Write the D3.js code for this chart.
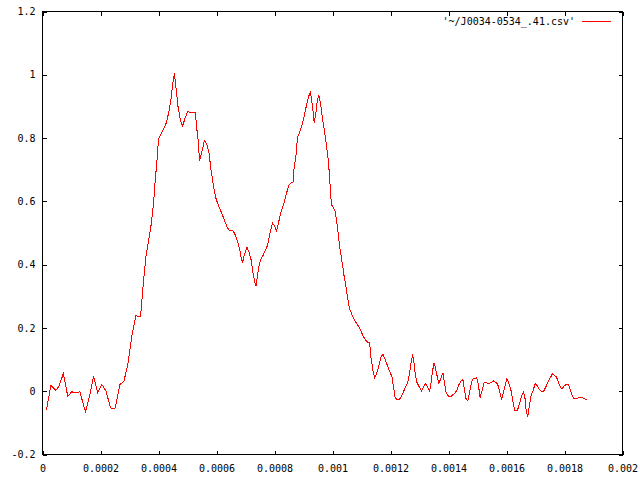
<!DOCTYPE html>
<html>
<head>
<meta charset="utf-8">
<script src="https://cdn.jsdelivr.net/npm/d3@7"></script>
<style>
  body { margin: 0; background: #fff; }
  svg { display: block; }
  text { font-family: "DejaVu Sans Mono", "Liberation Mono", monospace; font-size: 10px; fill: #000; }
</style>
</head>
<body>
<svg width="640" height="480"></svg>
<script>
// sample times in microseconds
var timeUs = [
  14, 29, 46, 57, 72, 87, 101, 115, 129, 148, 162, 176, 190, 205, 219, 235, 246, 251, 267, 281,
  295, 308, 322, 338, 343, 350, 357, 365, 374, 383, 389, 395, 400, 408, 417, 427, 435, 443, 448, 455,
  461, 467, 475, 483, 492, 501, 509, 527, 533, 538, 541, 546, 553, 558, 567, 574, 581, 588, 596, 604,
  613, 622, 631, 638, 647, 656, 664, 672, 679, 684, 690, 695, 705, 713, 719, 726, 730, 736, 740, 746,
  753, 762, 770, 777, 785, 793, 800, 807, 815, 823, 831, 840, 848, 854, 864, 868, 874, 879, 886, 894,
  900, 907, 914, 920, 924, 931, 937, 943, 948, 953, 960, 966, 973, 978, 984, 989, 992, 996, 1003, 1009,
  1015, 1021, 1024, 1030, 1036, 1040, 1046, 1052, 1058, 1067, 1075, 1082, 1090, 1098, 1107, 1114, 1121, 1128, 1132, 1139,
  1145, 1153, 1161, 1168, 1174, 1182, 1190, 1199, 1205, 1210, 1216, 1222, 1230, 1236, 1243, 1251, 1259, 1266, 1270, 1276,
  1281, 1285, 1291, 1299, 1307, 1314, 1321, 1328, 1335, 1340, 1345, 1350, 1355, 1361, 1367, 1372, 1381, 1386, 1392, 1398,
  1406, 1413, 1421, 1429, 1436, 1443, 1450, 1454, 1461, 1467, 1472, 1481, 1486, 1497, 1503, 1509, 1515, 1523, 1532, 1539,
  1547, 1555, 1561, 1569, 1576, 1583, 1590, 1597, 1601, 1608, 1615, 1621, 1628, 1638, 1644, 1652, 1659, 1665, 1668, 1673,
  1677, 1684, 1691, 1699, 1706, 1713, 1720, 1728, 1736, 1744, 1751, 1758, 1765, 1772, 1778, 1785, 1791, 1798, 1805, 1814,
  1819, 1825, 1832, 1839, 1848, 1856, 1863, 1870, 1877
];
var amplitude = [
  -0.058, 0.019, 0.003, 0.016, 0.056, -0.016, -0.002, -0.005, -0.002, -0.065, -0.016, 0.047, -0.005, 0.021, 0.000, -0.053, -0.056, -0.053, 0.021, 0.032,
  0.089, 0.174, 0.239, 0.235, 0.289, 0.365, 0.427, 0.470, 0.522, 0.595, 0.669, 0.732, 0.796, 0.811, 0.827, 0.848, 0.880, 0.922, 0.964, 1.004,
  0.954, 0.901, 0.859, 0.838, 0.864, 0.885, 0.880, 0.880, 0.822, 0.785, 0.727, 0.743, 0.769, 0.793, 0.780, 0.753, 0.701, 0.659, 0.616, 0.593,
  0.574, 0.553, 0.532, 0.516, 0.506, 0.509, 0.495, 0.474, 0.453, 0.427, 0.406, 0.427, 0.456, 0.437, 0.416, 0.374, 0.353, 0.332, 0.358, 0.395,
  0.416, 0.432, 0.448, 0.464, 0.501, 0.532, 0.522, 0.506, 0.537, 0.569, 0.590, 0.620, 0.648, 0.656, 0.661, 0.711, 0.743, 0.801, 0.817, 0.838,
  0.859, 0.890, 0.917, 0.938, 0.945, 0.901, 0.848, 0.880, 0.922, 0.935, 0.901, 0.859, 0.817, 0.785, 0.743, 0.690, 0.648, 0.590, 0.580, 0.569,
  0.532, 0.490, 0.458, 0.427, 0.390, 0.364, 0.332, 0.295, 0.263, 0.242, 0.227, 0.216, 0.205, 0.190, 0.172, 0.161, 0.155, 0.153, 0.111, 0.068,
  0.042, 0.058, 0.084, 0.111, 0.116, 0.100, 0.079, 0.058, 0.047, 0.016, -0.021, -0.026, -0.026, -0.020, -0.005, 0.011, 0.026, 0.058, 0.084, 0.116,
  0.090, 0.058, 0.028, 0.014, 0.002, 0.014, 0.024, 0.014, 0.000, 0.028, 0.063, 0.090, 0.074, 0.047, 0.024, 0.037, 0.058, 0.026, -0.005, -0.014,
  -0.018, -0.013, -0.007, 0.003, 0.021, 0.032, 0.037, 0.011, -0.026, -0.030, -0.005, 0.032, 0.040, 0.042, 0.021, -0.021, 0.000, 0.028, 0.026, 0.023,
  0.028, 0.032, 0.028, 0.024, 0.000, -0.026, 0.000, 0.024, 0.039, 0.026, 0.005, -0.026, -0.060, -0.060, -0.042, -0.016, -0.002, -0.028, -0.063, -0.081,
  -0.056, -0.016, 0.000, 0.024, 0.018, 0.005, 0.000, 0.000, 0.014, 0.032, 0.042, 0.055, 0.050, 0.045, 0.032, 0.014, 0.007, 0.016, 0.021, 0.021,
  0.007, -0.011, -0.024, -0.023, -0.021, -0.019, -0.021, -0.024, -0.027
];

var xTicks = [0, 0.0002, 0.0004, 0.0006, 0.0008, 0.001, 0.0012, 0.0014, 0.0016, 0.0018, 0.002];
var xTickLabels = ["0", "0.0002", "0.0004", "0.0006", "0.0008", "0.001", "0.0012", "0.0014", "0.0016", "0.0018", "0.002"];
var yTicks = [-0.2, 0, 0.2, 0.4, 0.6, 0.8, 1, 1.2];
var yTickLabels = ["-0.2", "0", "0.2", "0.4", "0.6", "0.8", "1", "1.2"];
var seriesName = "'~/J0034-0534_.41.csv'";

var data = timeUs.map(function(t, i) { return {x: t / 1e6, y: amplitude[i]}; });

// plot frame edges (half pixels keep the 1px lines crisp)
var plotLeft = 42.5, plotRight = 622.5, plotTop = 11.5, plotBottom = 454.5;

var svg = d3.select("svg");

var x = d3.scaleLinear().domain([0, 0.002]).range([plotLeft, plotRight]);
var y = d3.scaleLinear().domain([-0.2, 1.2]).range([plotBottom, plotTop]);

// bottom axis with labels, ticks pointing in
svg.append("g")
    .attr("transform", "translate(0," + plotBottom + ")")
    .call(d3.axisBottom(x).tickValues(xTicks)
        .tickFormat(function(d, i) { return xTickLabels[i]; })
        .tickSizeInner(-4).tickSizeOuter(0).tickPadding(10));

// mirrored top ticks
svg.append("g")
    .attr("transform", "translate(0," + plotTop + ")")
    .call(d3.axisTop(x).tickValues(xTicks).tickFormat("")
        .tickSizeInner(-4).tickSizeOuter(0));

// left axis
svg.append("g")
    .attr("transform", "translate(" + plotLeft + ",0)")
    .call(d3.axisLeft(y).tickValues(yTicks)
        .tickFormat(function(d, i) { return yTickLabels[i]; })
        .tickSizeInner(-4).tickSizeOuter(0).tickPadding(7));

// mirrored right ticks
svg.append("g")
    .attr("transform", "translate(" + plotRight + ",0)")
    .call(d3.axisRight(y).tickValues(yTicks).tickFormat("")
        .tickSizeInner(-4).tickSizeOuter(0));

svg.selectAll(".domain").remove();
svg.selectAll(".tick line").attr("stroke", "#000").attr("shape-rendering", "crispEdges");
svg.selectAll(".tick text").style("font-family", "DejaVu Sans Mono, Liberation Mono, monospace").style("font-size", "10px");

// frame
svg.append("rect")
    .attr("x", plotLeft).attr("y", plotTop)
    .attr("width", plotRight - plotLeft).attr("height", plotBottom - plotTop)
    .attr("fill", "none").attr("stroke", "#000")
    .attr("shape-rendering", "crispEdges");

// the trace (no antialiasing, like the gnuplot png)
var line = d3.line()
    .x(function(d) { return x(d.x); })
    .y(function(d) { return y(d.y); });

svg.append("path")
    .datum(data)
    .attr("fill", "none")
    .attr("stroke", "#ff0000")
    .attr("stroke-width", 1)
    .attr("shape-rendering", "crispEdges")
    .attr("d", line);

// key, top right
svg.append("text")
    .attr("x", 575).attr("y", 25)
    .attr("text-anchor", "end")
    .text(seriesName);
svg.append("line")
    .attr("x1", 582).attr("x2", 611)
    .attr("y1", 21.5).attr("y2", 21.5)
    .attr("stroke", "#ff0000")
    .attr("shape-rendering", "crispEdges");
</script>
</body>
</html>
